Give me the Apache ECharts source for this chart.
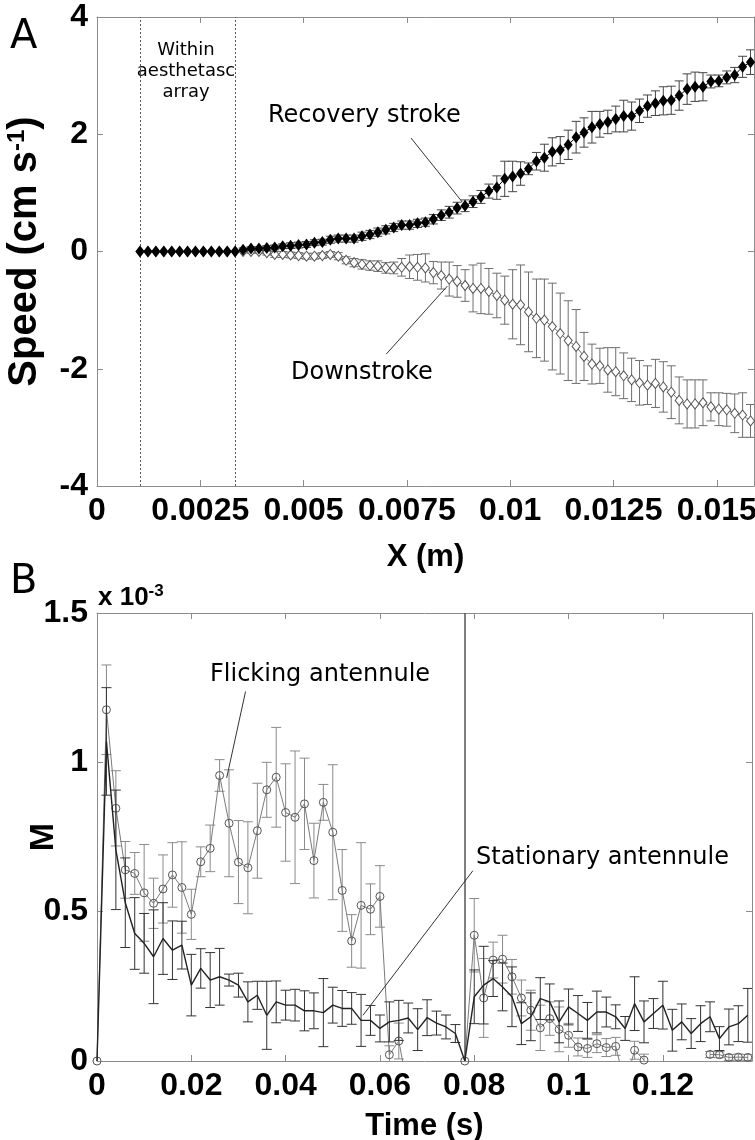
<!DOCTYPE html>
<html>
<head>
<meta charset="utf-8">
<script src="https://cdn.jsdelivr.net/npm/echarts@6/dist/echarts.min.js"></script>
<style>
  html, body { margin: 0; padding: 0; background: #fff; }
  #main { width: 755px; height: 1140px; }
</style>
</head>
<body>
<div id="main"></div>
<script>
// ---- panel A: speed along the antennule ----
var posX = [0.001040, 0.001232, 0.001424, 0.001616, 0.001808, 0.002000, 0.002191, 0.002383, 0.002575, 0.002767,
  0.002959, 0.003151, 0.003343, 0.003535, 0.003727, 0.003919, 0.004110, 0.004302, 0.004494, 0.004686,
  0.004878, 0.005070, 0.005262, 0.005454, 0.005646, 0.005838, 0.006029, 0.006221, 0.006413, 0.006605,
  0.006797, 0.006989, 0.007181, 0.007373, 0.007565, 0.007757, 0.007948, 0.008140, 0.008332, 0.008524,
  0.008716, 0.008908, 0.009100, 0.009292, 0.009484, 0.009676, 0.009867, 0.010059, 0.010251, 0.010443,
  0.010635, 0.010827, 0.011019, 0.011211, 0.011403, 0.011595, 0.011786, 0.011978, 0.012170, 0.012362,
  0.012554, 0.012746, 0.012938, 0.013130, 0.013322, 0.013514, 0.013705, 0.013897, 0.014089, 0.014281,
  0.014473, 0.014665, 0.014857, 0.015049, 0.015241, 0.015433, 0.015624, 0.015816]
var recovery = [0, 0, 0, 0, 0, 0, 0, 0, 0, 0, 0, 0, 0,
  0.03, 0.05, 0.05, 0.06, 0.07, 0.09, 0.10, 0.11, 0.12, 0.15, 0.16, 0.20, 0.22, 0.22, 0.22, 0.26, 0.29, 0.33,
  0.37, 0.41, 0.45, 0.45, 0.48,
  0.50, 0.55, 0.62, 0.67, 0.74, 0.78, 0.85, 0.93, 1.03, 1.09, 1.24, 1.28, 1.33, 1.41, 1.54, 1.60, 1.70, 1.73,
  1.82, 1.95, 2.03, 2.12, 2.17, 2.21, 2.26, 2.31, 2.31, 2.40, 2.48, 2.53, 2.57, 2.58, 2.66, 2.77, 2.81, 2.81,
  2.90, 2.91, 2.97, 3.01, 3.15, 3.23]
var recoveryErr = [0, 0, 0, 0, 0, 0, 0, 0, 0, 0, 0, 0, 0,
  0.03, 0.03, 0.03, 0.04, 0.04, 0.04, 0.05, 0.05, 0.05, 0.05, 0.05, 0.06, 0.06, 0.06, 0.06, 0.07, 0.07, 0.07,
  0.07, 0.07, 0.07, 0.07, 0.07,
  0.07, 0.08, 0.09, 0.1, 0.1, 0.1, 0.1, 0.11, 0.12, 0.2, 0.3, 0.26, 0.2, 0.1, 0.15, 0.23, 0.24, 0.23,
  0.25, 0.27, 0.25, 0.27, 0.22, 0.2, 0.22, 0.27, 0.24, 0.2, 0.19, 0.21, 0.24, 0.24, 0.25, 0.26, 0.25, 0.24,
  0.11, 0.1, 0.11, 0.13, 0.18, 0.21]
var downstroke = [0, 0, 0, 0, 0, 0, 0, 0, 0, 0, 0, 0, 0, 0,
  0, 0, -0.02, -0.05, -0.05, -0.06, -0.07, -0.08, -0.08, -0.07, -0.05, -0.08, -0.15, -0.19, -0.22,
  -0.24, -0.25, -0.28, -0.28, -0.27, -0.26, -0.27,
  -0.28, -0.36, -0.41, -0.47, -0.51, -0.58, -0.63, -0.63, -0.68, -0.75, -0.83, -0.90, -0.91, -1.03,
  -1.14, -1.17, -1.28, -1.40, -1.52, -1.62, -1.79, -1.92, -1.95, -2.02, -2.05, -2.12, -2.19, -2.24,
  -2.28, -2.25, -2.31, -2.40, -2.54, -2.60, -2.60, -2.58, -2.65, -2.69, -2.70, -2.76, -2.79, -2.89]
var downstrokeErr = [0, 0, 0, 0, 0, 0, 0, 0, 0, 0, 0, 0, 0, 0,
  0.03, 0.03, 0.04, 0.05, 0.05, 0.05, 0.05, 0.05, 0.05, 0.05, 0.05, 0.06, 0.06, 0.07, 0.08,
  0.08, 0.09, 0.09, 0.1, 0.15, 0.2, 0.22,
  0.24, 0.19, 0.23, 0.29, 0.27, 0.27, 0.40, 0.43, 0.39, 0.38, 0.41, 0.59, 0.68, 0.68,
  0.67, 0.70, 0.74, 0.69, 0.68, 0.63, 0.41, 0.34, 0.30, 0.38, 0.41, 0.39, 0.37, 0.38,
  0.33, 0.41, 0.43, 0.45, 0.40, 0.41, 0.41, 0.39, 0.24, 0.28, 0.28, 0.33, 0.38, 0.28]
var arrayEdges = [0.00104, 0.00334]
var xTicksA = [0, 0.0025, 0.005, 0.0075, 0.01, 0.0125, 0.015]
var speedTicks = [-4, -2, 0, 2, 4]
var recoveryLeader = [[0.0076, 1.935], [0.00884, 0.844]]
var downLeader = [[0.0070, -1.75], [0.00848, -0.59]]

// ---- panel B: M over time (x 10^-3) ----
var timeS = [0, 0.002, 0.004, 0.006, 0.008, 0.01, 0.012, 0.014, 0.016, 0.018,
  0.02, 0.022, 0.024, 0.026, 0.028, 0.03, 0.032, 0.034, 0.036, 0.038,
  0.04, 0.042, 0.044, 0.046, 0.048, 0.05, 0.052, 0.054, 0.056, 0.058,
  0.06, 0.062, 0.064, 0.066, 0.068, 0.07, 0.072, 0.074, 0.076, 0.078,
  0.08, 0.082, 0.084, 0.086, 0.088, 0.09, 0.092, 0.094, 0.096, 0.098,
  0.1, 0.102, 0.104, 0.106, 0.108, 0.11, 0.112, 0.114, 0.116, 0.118,
  0.12, 0.122, 0.124, 0.126, 0.128, 0.13, 0.132, 0.134, 0.136, 0.138]
var flicking = [0, 1.176, 0.846, 0.640, 0.628, 0.563, 0.528, 0.576, 0.623, 0.581,
  0.491, 0.667, 0.712, 0.956, 0.796, 0.666, 0.647, 0.771, 0.908, 0.950,
  0.832, 0.816, 0.861, 0.671, 0.866, 0.766, 0.571, 0.402, 0.521, 0.508,
  0.551, 0.021, 0.067, -0.1, null, null, null, null, null, 0,
  0.421, 0.211, 0.338, 0.341, 0.282, 0.211, 0.170, 0.111, 0.142, 0.106,
  0.086, 0.047, 0.042, 0.058, 0.045, 0.049, -0.08, 0.036, 0.003, null,
  null, null, null, null, null, 0.022, 0.021, 0.012, 0.013, 0.012]
var flickingErr = [0, 0.15, 0.126, 0.095, 0.07, 0.162, 0.084, 0.114, 0.108, 0.153,
  0.084, 0.05, 0.078, 0.053, 0.179, 0.139, 0.154, 0.159, 0.092, 0.167,
  0.163, 0.222, 0.153, 0.125, 0.06, 0.226, 0.137, 0.088, 0.21, 0.085,
  0.103, 0.03, 0.06, 0, 0, 0, 0, 0, 0, 0,
  0.123, 0.132, 0.06, 0.08, 0.058, 0.06, 0.067, 0.076, 0.056, 0.075,
  0.04, 0.03, 0.03, 0.03, 0.03, 0.03, 0, 0.03, 0.02, 0,
  0, 0, 0, 0, 0, 0.01, 0.01, 0.01, 0.01, 0.01]
var stationary = [0, 1.07, 0.707, 0.53, 0.427, 0.394, 0.349, 0.410, 0.371, 0.388,
  0.254, 0.310, 0.271, 0.282, 0.271, 0.254, 0.198, 0.220, 0.153, 0.198,
  0.187, 0.187, 0.168, 0.168, 0.162, 0.187, 0.176, 0.176, 0.136, 0.136,
  0.109, 0.131, 0.136, 0.144, 0.105, 0.145, 0.127, 0.114, 0.092, 0,
  0.215, 0.254, 0.276, 0.248, 0.215, 0.125, 0.148, 0.209, 0.198, 0.131,
  0.181, 0.159, 0.136, 0.164, 0.164, 0.148, 0.109, 0.192, 0.131, 0.159,
  0.187, 0.103, 0.131, 0.092, 0.125, 0.148, 0.075, 0.114, 0.125, 0.153]
var stationaryErr = [0, 0.18, 0.2, 0.15, 0.12, 0.1, 0.157, 0.12, 0.098, 0.08,
  0.103, 0.066, 0.092, 0.095, 0.02, 0.04, 0.067, 0.047, 0.114, 0.07,
  0.05, 0.053, 0.067, 0.06, 0.114, 0.06, 0.06, 0.053, 0.087, 0.05,
  0.045, 0.067, 0.067, 0.05, 0.07, 0.06, 0.04, 0.04, 0.03, 0,
  0.09, 0.13, 0.06, 0.08, 0.1, 0.07, 0.08, 0.07, 0.06, 0.07,
  0.06, 0.06, 0.06, 0.07, 0.05, 0.04, 0.04, 0.09, 0.07, 0.05,
  0.08, 0.07, 0.06, 0.05, 0.06, 0.05, 0.04, 0.06, 0.06, 0.09]
var restartTime = 0.078
var timeTicks = [0, 0.02, 0.04, 0.06, 0.08, 0.1, 0.12]
var mTicks = [0, 0.5, 1, 1.5]
var flickLeader = [[0.0315, 1.237], [0.0275, 0.948]]
var statLeader = [[0.0797, 0.637], [0.0564, 0.153]]

var axisGrey = '#8c8c8c'
var boldFont = '"Liberation Sans", Arial, sans-serif'
var annotFont = '"DejaVu Sans", sans-serif'

function pairs(xs, ys) {
  return xs.map(function (x, i) { return [x, ys[i]] })
}
function errData(xs, ys, es) {
  var out = []
  for (var i = 0; i < xs.length; i++) {
    if (ys[i] == null || !es[i]) continue
    out.push([xs[i], ys[i] - es[i], ys[i] + es[i]])
  }
  return out
}
function tickLabel(ticks) {
  return function (v) {
    for (var i = 0; i < ticks.length; i++) {
      if (Math.abs(v - ticks[i]) < 1e-9) return String(ticks[i])
    }
    return ''
  }
}
function errorBars(color, capW) {
  return function (params, api) {
    var top = api.coord([api.value(0), api.value(2)])
    var bot = api.coord([api.value(0), api.value(1)])
    var st = { stroke: color, lineWidth: 1 }
    return {
      type: 'group',
      children: [
        { type: 'line', shape: { x1: top[0], y1: top[1], x2: bot[0], y2: bot[1] }, style: st },
        { type: 'line', shape: { x1: top[0] - capW, y1: top[1], x2: top[0] + capW, y2: top[1] }, style: st },
        { type: 'line', shape: { x1: bot[0] - capW, y1: bot[1], x2: bot[0] + capW, y2: bot[1] }, style: st }
      ]
    }
  }
}
function valueAxis(gridIndex, position, max, ticks, labels, extra) {
  var a = {
    type: 'value', gridIndex: gridIndex, position: position,
    min: ticks[0], max: max, interval: ticks[1] - ticks[0],
    nameMoveOverlap: false,
    splitLine: { show: false },
    axisLine: { show: true, onZero: false, lineStyle: { color: axisGrey, width: 1 } },
    axisTick: { show: true, inside: true, length: 6, lineStyle: { color: axisGrey } },
    axisLabel: labels ? {
      formatter: tickLabel(ticks), margin: 9, color: '#000',
      fontFamily: boldFont, fontWeight: 'bold', fontSize: 32
    } : { show: false }
  }
  return Object.assign(a, extra || {})
}
function leader(seg) {
  return [{ coord: seg[0] }, { coord: seg[1] }]
}

var chart = echarts.init(document.getElementById('main'), null, { renderer: 'canvas' })
var option = {
  animation: false,
  backgroundColor: '#ffffff',
  grid: [
    { left: 97, top: 17, width: 657, height: 469, containLabel: false, outerBoundsMode: 'none' },
    { left: 97, top: 613, width: 655, height: 448, containLabel: false, outerBoundsMode: 'none' }
  ],
  xAxis: [
    valueAxis(0, 'bottom', 0.0159, xTicksA, true, {
      name: 'X (m)', nameLocation: 'middle', nameGap: 56,
      nameTextStyle: { fontFamily: boldFont, fontWeight: 'bold', fontSize: 31, color: '#000' }
    }),
    valueAxis(0, 'top', 0.0159, xTicksA, false),
    valueAxis(1, 'bottom', 0.1389, timeTicks, true, {
      name: 'Time (s)', nameLocation: 'middle', nameGap: 50,
      nameTextStyle: { fontFamily: boldFont, fontWeight: 'bold', fontSize: 31, color: '#000' }
    }),
    valueAxis(1, 'top', 0.1389, timeTicks, false)
  ],
  yAxis: [
    valueAxis(0, 'left', 4, speedTicks, true, {
      name: 'Speed (cm s{sup|-1})', nameLocation: 'middle', nameRotate: 90, nameGap: 52,
      nameTextStyle: {
        fontFamily: boldFont, fontWeight: 'bold', fontSize: 40, color: '#000',
        rich: { sup: { fontFamily: boldFont, fontWeight: 'bold', fontSize: 24, verticalAlign: 'top', lineHeight: 40 } }
      }
    }),
    valueAxis(0, 'right', 4, speedTicks, false),
    valueAxis(1, 'left', 1.5, mTicks, true, {
      name: 'M', nameLocation: 'middle', nameRotate: 90, nameGap: 36,
      nameTextStyle: { fontFamily: boldFont, fontWeight: 'bold', fontSize: 34, color: '#000' }
    }),
    valueAxis(1, 'right', 1.5, mTicks, false)
  ],
  series: [
    {
      type: 'custom', name: 'Downstroke error', xAxisIndex: 0, yAxisIndex: 0, clip: true,
      renderItem: errorBars('#6e6e6e', 4.5), encode: { x: 0, y: [1, 2] },
      data: errData(posX, downstroke, downstrokeErr), z: 2
    },
    {
      type: 'line', name: 'Downstroke', xAxisIndex: 0, yAxisIndex: 0,
      data: pairs(posX, downstroke), symbol: 'diamond', symbolSize: [8, 10],
      lineStyle: { color: '#777', width: 1 },
      itemStyle: { color: '#ffffff', borderColor: '#555', borderWidth: 1 }, z: 3,
      markLine: {
        silent: true, symbol: ['none', 'none'], label: { show: false }, precision: 6,
        lineStyle: { color: '#333', width: 1, type: 'solid' },
        data: [leader(recoveryLeader), leader(downLeader)]
      }
    },
    {
      type: 'custom', name: 'Recovery error', xAxisIndex: 0, yAxisIndex: 0, clip: true,
      renderItem: errorBars('#444', 4.5), encode: { x: 0, y: [1, 2] },
      data: errData(posX, recovery, recoveryErr), z: 4
    },
    {
      type: 'line', name: 'Recovery stroke', xAxisIndex: 0, yAxisIndex: 0,
      data: pairs(posX, recovery), symbol: 'diamond', symbolSize: [9, 12],
      lineStyle: { color: '#000', width: 1 },
      itemStyle: { color: '#000' }, z: 5,
      markLine: {
        silent: true, symbol: ['none', 'none'], label: { show: false }, precision: 6,
        lineStyle: { color: '#555', width: 1, type: [2, 2] },
        data: [{ xAxis: arrayEdges[0] }, { xAxis: arrayEdges[1] }]
      }
    },
    {
      type: 'custom', name: 'Flicking error', xAxisIndex: 2, yAxisIndex: 2, clip: true,
      renderItem: errorBars('#8a8a8a', 5), encode: { x: 0, y: [1, 2] },
      data: errData(timeS, flicking, flickingErr), z: 2
    },
    {
      type: 'line', name: 'Flicking antennule', xAxisIndex: 2, yAxisIndex: 2,
      data: pairs(timeS, flicking), symbol: 'circle', symbolSize: 8, showAllSymbol: true,
      lineStyle: { color: '#7a7a7a', width: 1 },
      itemStyle: { color: 'rgba(255,255,255,0)', borderColor: '#555', borderWidth: 1 }, z: 3,
      markLine: {
        silent: true, symbol: ['none', 'none'], label: { show: false }, precision: 6,
        lineStyle: { color: '#333', width: 1, type: 'solid' },
        data: [
          { xAxis: restartTime, lineStyle: { color: '#555', width: 1.5, type: 'solid' } },
          leader(flickLeader),
          leader(statLeader)
        ]
      }
    },
    {
      type: 'custom', name: 'Stationary error', xAxisIndex: 2, yAxisIndex: 2, clip: true,
      renderItem: errorBars('#333', 5), encode: { x: 0, y: [1, 2] },
      data: errData(timeS, stationary, stationaryErr), z: 4
    },
    {
      type: 'line', name: 'Stationary antennule', xAxisIndex: 2, yAxisIndex: 2,
      data: pairs(timeS, stationary), showSymbol: false,
      lineStyle: { color: '#222', width: 1.4 }, z: 5
    }
  ],
  graphic: [
    { type: 'text', x: 10, y: 38, style: { text: 'A', fontFamily: annotFont, fontSize: 40, fill: '#000', verticalAlign: 'middle' } },
    { type: 'text', x: 10, y: 583, style: { text: 'B', fontFamily: annotFont, fontSize: 40, fill: '#000', verticalAlign: 'middle' } },
    {
      type: 'text', x: 186, y: 71,
      style: { text: 'Within\naesthetasc\narray', fontFamily: annotFont, fontSize: 18, lineHeight: 21, fill: '#000', align: 'center', verticalAlign: 'middle' }
    },
    { type: 'text', x: 268, y: 116, style: { text: 'Recovery stroke', fontFamily: annotFont, fontSize: 24, fill: '#000', verticalAlign: 'middle' } },
    { type: 'text', x: 291, y: 373, style: { text: 'Downstroke', fontFamily: annotFont, fontSize: 24, fill: '#000', verticalAlign: 'middle' } },
    { type: 'text', x: 210, y: 675, style: { text: 'Flicking antennule', fontFamily: annotFont, fontSize: 24, fill: '#000', verticalAlign: 'middle' } },
    { type: 'text', x: 476, y: 858, style: { text: 'Stationary antennule', fontFamily: annotFont, fontSize: 24, fill: '#000', verticalAlign: 'middle' } },
    {
      type: 'text', x: 98, y: 598,
      style: {
        text: 'x 10{sup|-3}', fontFamily: boldFont, fontWeight: 'bold', fontSize: 26, fill: '#000', verticalAlign: 'middle',
        rich: { sup: { fontFamily: boldFont, fontWeight: 'bold', fontSize: 17, verticalAlign: 'top', lineHeight: 30 } }
      }
    }
  ]
}
chart.setOption(option)
</script>
</body>
</html>
